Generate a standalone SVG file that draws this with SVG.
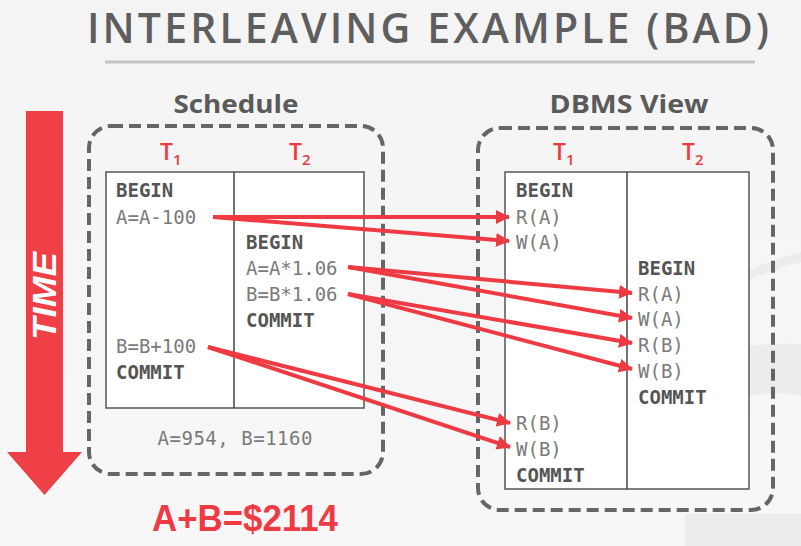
<svg xmlns="http://www.w3.org/2000/svg" width="801" height="546" viewBox="0 0 801 546">
  <defs>
    <linearGradient id="bg" x1="0" y1="0" x2="0" y2="1">
      <stop offset="0" stop-color="#f4f4f4"/>
      <stop offset="1" stop-color="#f7f7f7"/>
    </linearGradient>
    <marker id="ah" markerUnits="userSpaceOnUse" markerWidth="14" markerHeight="14" refX="13" refY="7" orient="auto">
      <path d="M0,0 L14,7 L0,14 Z" fill="#ee3a42"/>
    </marker>
    <style>
      .title{font-family:"Open Sans","Liberation Sans",sans-serif;font-size:41px;font-weight:600;fill:#5e5e5e;}
      .head{font-family:"Open Sans","Liberation Sans",sans-serif;font-size:25px;font-weight:bold;fill:#5a5a5a;}
      .tx{font-family:"Open Sans","Liberation Sans",sans-serif;font-size:23px;font-weight:600;fill:#ee3a42;}
      .sub{font-size:15px;}
      .mono{font-family:"DejaVu Sans Mono","Liberation Mono",monospace;font-size:19px;fill:#7a7a7a;}
      .bold{font-weight:bold;fill:#555555;}
      .dash{fill:none;stroke:#666666;stroke-width:4;stroke-dasharray:12 6;}
      .tbl{fill:#ffffff;stroke:#555555;stroke-width:1.5;}
      .div{stroke:#444444;stroke-width:1.5;}
      .arr{stroke:#ee3a42;stroke-width:4;fill:none;marker-end:url(#ah);}
    </style>
  </defs>
  <rect x="0" y="0" width="801" height="546" fill="url(#bg)"/>
  <g id="watermark" fill="#ececec">
    <path d="M745,272 Q772,259 801,252 L801,262 Q774,268 749,280 Z"/>
    <path d="M749,346 Q776,343 801,344 L801,396 Q776,390 750,396 Z"/>
    <path d="M685,514 L801,514 L801,546 L685,546 Z"/>
  </g>

  <g id="title">
    <text class="title" x="87" y="43" textLength="682" lengthAdjust="spacing">INTERLEAVING EXAMPLE (BAD)</text>
    <line x1="105" y1="62" x2="755" y2="62" stroke="#c4c4c4" stroke-width="3"/>
  </g>

  <g id="time-arrow">
    <path d="M26,111 L63,111 L63,452 L82,452 L44.5,495 L7,452 L26,452 Z" fill="#ef3f47"/>
    <text transform="translate(56,340) rotate(-90)" font-family="Liberation Sans, Arial, sans-serif" font-size="33" font-weight="bold" font-style="italic" fill="#ffffff" textLength="88" lengthAdjust="spacingAndGlyphs">TIME</text>
  </g>

  <g id="schedule">
    <text class="head" x="236" y="113" text-anchor="middle" textLength="125" lengthAdjust="spacingAndGlyphs">Schedule</text>
    <rect class="dash" x="89" y="126" width="294" height="348" rx="22"/>
    <text class="tx" x="160" y="160">T<tspan class="sub" dy="5">1</tspan></text>
    <text class="tx" x="289" y="160">T<tspan class="sub" dy="5">2</tspan></text>
    <rect class="tbl" x="106" y="172" width="258" height="236"/>
    <line class="div" x1="234" y1="172" x2="234" y2="408"/>
    <text class="mono bold" x="116" y="197">BEGIN</text>
    <text class="mono" x="116" y="224">A=A-100</text>
    <text class="mono bold" x="246" y="249">BEGIN</text>
    <text class="mono" x="246" y="275">A=A*1.06</text>
    <text class="mono" x="246" y="301">B=B*1.06</text>
    <text class="mono bold" x="246" y="327">COMMIT</text>
    <text class="mono" x="116" y="353">B=B+100</text>
    <text class="mono bold" x="116" y="379">COMMIT</text>
    <text class="mono" x="235" y="445" text-anchor="middle" fill="#555555" textLength="155">A=954, B=1160</text>
    <text x="245" y="531" text-anchor="middle" font-family="Liberation Sans, Arial, sans-serif" font-size="37" font-weight="bold" fill="#ee3a42" textLength="186" lengthAdjust="spacingAndGlyphs">A+B=$2114</text>
  </g>

  <g id="dbms-view">
    <text class="head" x="629" y="113" text-anchor="middle" textLength="159" lengthAdjust="spacingAndGlyphs">DBMS View</text>
    <rect class="dash" x="478" y="128" width="295" height="382" rx="22"/>
    <text class="tx" x="553" y="160">T<tspan class="sub" dy="5">1</tspan></text>
    <text class="tx" x="682" y="160">T<tspan class="sub" dy="5">2</tspan></text>
    <rect class="tbl" x="505" y="172" width="244" height="317"/>
    <line class="div" x1="627" y1="172" x2="627" y2="489"/>
    <text class="mono bold" x="516" y="197">BEGIN</text>
    <text class="mono" x="516" y="224">R(A)</text>
    <text class="mono" x="516" y="249">W(A)</text>
    <text class="mono bold" x="638" y="275">BEGIN</text>
    <text class="mono" x="638" y="301">R(A)</text>
    <text class="mono" x="638" y="326">W(A)</text>
    <text class="mono" x="638" y="352">R(B)</text>
    <text class="mono" x="638" y="378">W(B)</text>
    <text class="mono bold" x="638" y="404">COMMIT</text>
    <text class="mono" x="516" y="430">R(B)</text>
    <text class="mono" x="516" y="456">W(B)</text>
    <text class="mono bold" x="516" y="482">COMMIT</text>
  </g>

  <g id="connectors">
    <line class="arr" x1="213" y1="217" x2="509" y2="217"/>
    <line class="arr" x1="213" y1="217" x2="509" y2="241"/>
    <line class="arr" x1="348" y1="267" x2="632" y2="293"/>
    <line class="arr" x1="348" y1="267" x2="632" y2="318"/>
    <line class="arr" x1="348" y1="294" x2="632" y2="343"/>
    <line class="arr" x1="348" y1="294" x2="632" y2="369"/>
    <line class="arr" x1="208" y1="347" x2="510" y2="423"/>
    <line class="arr" x1="208" y1="347" x2="510" y2="447"/>
  </g>
</svg>
